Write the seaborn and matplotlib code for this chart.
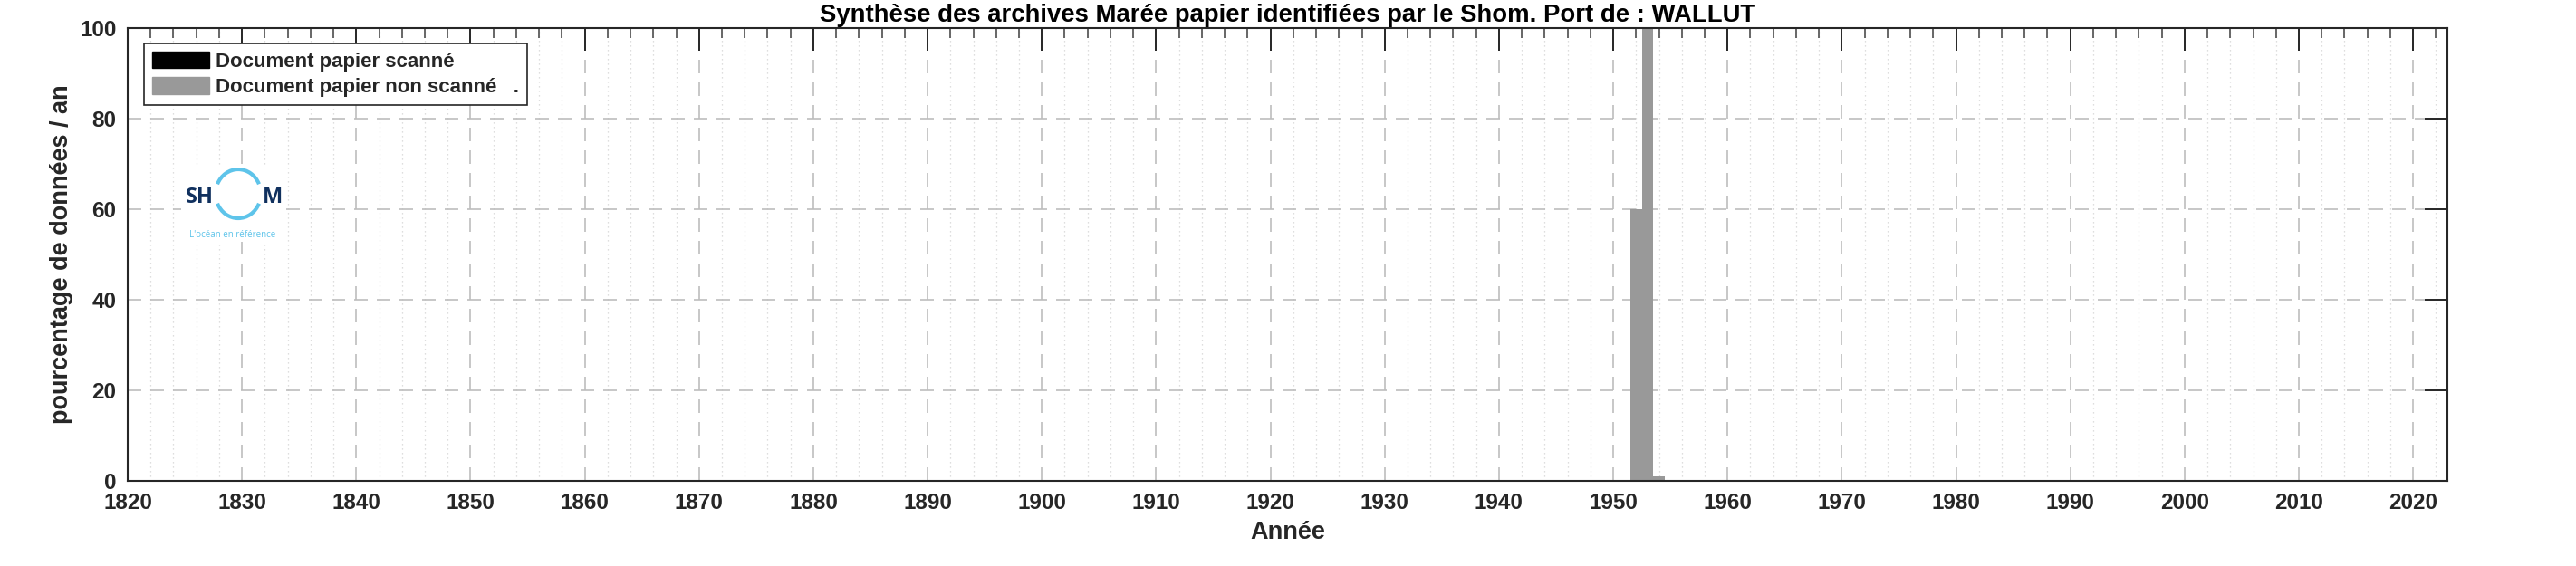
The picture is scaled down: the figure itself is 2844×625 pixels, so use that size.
import matplotlib
matplotlib.use('Agg')
import matplotlib.pyplot as plt
import seaborn as sns
from matplotlib.patches import Patch, Arc
from matplotlib.ticker import MultipleLocator

# Data (percentage of data per year)
years = [1952, 1953, 1954]
non_scanned = [60, 100, 1]
scanned = [0, 0, 0]

title = "Synthèse des archives Marée papier identifiées par le Shom. Port de : WALLUT"
legend_labels = ["Document papier scanné", "Document papier non scanné   ."]
xticks = list(range(1820, 2021, 10))
yticks = [0, 20, 40, 60, 80, 100]

sns.set_style('white')
plt.rcParams['font.family'] = ['Liberation Sans', 'DejaVu Sans']
plt.rcParams['font.weight'] = 'bold'

GREY = '#999999'
DARK = '#262626'

fig = plt.figure(figsize=(28.44, 6.25), dpi=100)
ax = fig.add_axes([141 / 2844, 1 - 531 / 625, 2561 / 2844, 500 / 625])

# stacked bars: total first (grey), scanned part on top (black)
total = [s + n for s, n in zip(scanned, non_scanned)]
sns.barplot(x=years, y=total, native_scale=True, width=1, color=GREY,
            saturation=1, linewidth=0, ax=ax)
sns.barplot(x=years, y=scanned, native_scale=True, width=1, color='black',
            saturation=1, linewidth=0, ax=ax)

ax.set_xlim(1820, 2023)
ax.set_ylim(0, 100)
ax.set_xticks(xticks)
ax.set_yticks(yticks)
ax.xaxis.set_minor_locator(MultipleLocator(2))

ax.set_axisbelow(True)
ax.grid(which='major', axis='both', color='#bdbdbd', linewidth=1.2, linestyle=(0, (9, 6)))
ax.grid(which='minor', axis='x', color='#d4d4d4', linewidth=0.9, linestyle=(0, (1, 3)))

ax.tick_params(axis='both', which='major', direction='in', length=18, width=1.4,
               colors=DARK, labelsize=17.5, top=True, right=True, pad=9)
ax.tick_params(axis='x', which='minor', direction='in', length=8, width=1.4,
               color='#666666', top=True)
for lab in ax.get_xticklabels() + ax.get_yticklabels():
    lab.set_fontweight('bold')
for sp in ax.spines.values():
    sp.set_color(DARK)
    sp.set_linewidth(1.5)

ax.set_xlabel('Année', fontsize=19.5, fontweight='bold', color=DARK, labelpad=6)
ax.set_ylabel('pourcentage de données / an', fontsize=19.5, fontweight='bold',
              color=DARK, labelpad=5)
ax.set_title(title, fontsize=19.8, fontweight='bold', color='black', pad=5)

handles = [Patch(facecolor='black', edgecolor='black'),
           Patch(facecolor=GREY, edgecolor=GREY)]
leg = ax.legend(handles, legend_labels, loc='upper left', bbox_to_anchor=(0.007, 0.966),
                borderaxespad=0, fancybox=False, framealpha=1, edgecolor=DARK,
                handlelength=2.85, handleheight=0.9, borderpad=0.4, labelspacing=0.3,
                handletextpad=0.3, prop={'weight': 'bold', 'size': 16})
leg.get_frame().set_linewidth(1.2)

# Shom logo drawn as text and arcs on a small white box
lg = fig.add_axes([200 / 2844, 1 - 267 / 625, 113 / 2844, 82 / 625])
lg.set_facecolor('white')
lg.set_xlim(200, 313)
lg.set_ylim(267, 185)
lg.set_xticks([])
lg.set_yticks([])
for sp in lg.spines.values():
    sp.set_visible(False)
navy = '#10305e'
cyan = '#5ec4ea'
lg.text(205, 218, 'SH', fontsize=17, fontweight='bold', color=navy, va='center', ha='left',
        family=['Open Sans', 'DejaVu Sans'])
lg.text(290, 218, 'M', fontsize=17, fontweight='bold', color=navy, va='center', ha='left',
        family=['Open Sans', 'DejaVu Sans'])
lg.add_patch(Arc((263, 214), 50, 54, theta1=25, theta2=155, color=cyan, lw=3))
lg.add_patch(Arc((263, 214), 50, 54, theta1=205, theta2=335, color=cyan, lw=3))
lg.text(257, 259, "L'océan en référence", fontsize=7, color=cyan, va='center', ha='center',
        fontweight='normal', family=['Open Sans', 'DejaVu Sans'])

fig.savefig('out.png', dpi=100)
